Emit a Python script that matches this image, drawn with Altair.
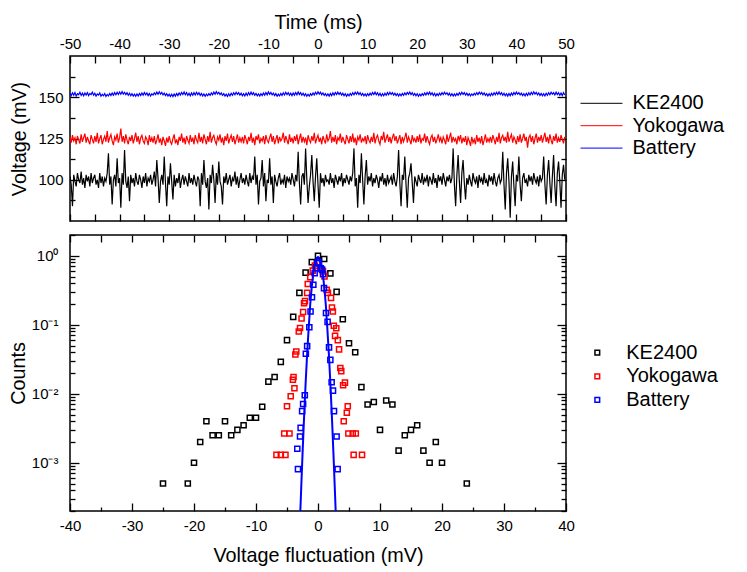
import altair as alt
import pandas as pd

FONT = "Liberation Sans"
SERIES = ["KE2400", "Yokogawa", "Battery"]
COLORS = ["#000000", "#ff0000", "#0000ff"]

# ---------------- top panel: voltage traces (one reading every 0.25 ms) ----------------
T0, DT = -50.0, 0.25
ke2400_mv = [
    102, 97, 84, 103, 99, 96, 104, 100, 98, 105, 97, 101, 95, 103, 99, 102, 96, 104, 98, 101,
    103, 97, 100, 95, 104, 98, 102, 96, 101, 99, 104, 116, 97, 102, 85, 100, 103, 96, 113, 98,
    101, 83, 104, 97, 118, 99, 95, 102, 87, 103, 98, 101, 96, 104, 99, 97, 103, 100, 95, 102,
    98, 104, 96, 101, 99, 103, 97, 100, 105, 96, 112, 101, 86, 99, 103, 97, 114, 98, 84, 102,
    97, 110, 99, 88, 103, 96, 101, 98, 104, 95, 100, 103, 97, 102, 99, 96, 104, 98, 101, 97,
    103, 99, 96, 102, 100, 84, 104, 97, 112, 99, 95, 101, 82, 103, 98, 109, 100, 86, 104, 97,
    111, 99, 96, 85, 102, 98, 104, 97, 100, 103, 96, 101, 99, 105, 97, 102, 95, 100, 104, 98,
    101, 97, 103, 99, 96, 104, 98, 102, 100, 114, 97, 103, 85, 99, 101, 112, 96, 104, 87, 100,
    98, 113, 97, 102, 86, 103, 99, 96, 101, 104, 97, 100, 98, 103, 95, 102, 99, 101, 97, 104,
    100, 96, 103, 99, 117, 98, 85, 102, 104, 97, 119, 100, 86, 96, 103, 115, 99, 87, 102, 113,
    97, 83, 104, 98, 101, 96, 103, 99, 100, 97, 104, 98, 101, 95, 103, 100, 97, 102, 99, 104,
    96, 101, 98, 103, 100, 97, 102, 99, 104, 119, 96, 101, 83, 103, 98, 116, 100, 85, 102, 112,
    97, 102, 99, 104, 96, 101, 98, 103, 100, 95, 102, 99, 104, 97, 101, 96, 103, 98, 100, 102,
    97, 104, 99, 96, 102, 118, 98, 84, 103, 100, 114, 97, 83, 101, 104, 110, 98, 86, 102, 99,
    96, 103, 100, 98, 104, 97, 101, 99, 103, 96, 102, 100, 97, 104, 98, 101, 95, 103, 99, 102,
    97, 104, 100, 96, 102, 99, 103, 98, 101, 119, 97, 84, 103, 115, 99, 86, 104, 112, 98, 88,
    101, 97, 103, 99, 96, 104, 100, 98, 102, 95, 103, 99, 101, 97, 104, 98, 100, 96, 103, 99,
    102, 97, 104, 99, 96, 101, 103, 98, 100, 117, 97, 82, 104, 113, 99, 77, 102, 111, 96, 84,
    103, 99, 114, 97, 87, 101, 104, 98, 100, 96, 103, 99, 102, 97, 104, 100, 98, 102, 96, 103,
    99, 101, 114, 97, 85, 103, 112, 98, 86, 102, 115, 96, 84, 104, 111, 99, 83, 103, 109, 100,
]
yokogawa_mv = [
    126, 122.5, 127, 123.5, 125.5, 121.5, 126.5, 124, 122, 127.5, 123, 125.5, 128, 122.5, 126, 123.5, 121.5, 127, 124.5, 122,
    126.5, 123, 128.5, 122, 125, 127, 121.5, 124.5, 126.5, 123, 129.5, 122.5, 125.5, 127.5, 123.5, 121, 126, 124, 128, 122.5,
    125.5, 131, 123, 126.5, 122, 127.5, 124, 121.5, 126, 123.5, 127, 122, 125, 128.5, 123, 126.5, 121.5, 125.5, 127, 123.5,
    122, 126, 124.5, 121, 127, 123, 125.5, 122.5, 126.5, 121.5, 124, 127.5, 122.5, 125, 121, 126, 123.5, 120.5, 125.5, 122.5,
    126.5, 123, 121.5, 125, 127.5, 122, 124.5, 121, 126, 123.5, 128, 122.5, 125.5, 121.5, 126.5, 124, 122, 127, 123, 125.5,
    121.5, 127, 124, 122.5, 128.5, 123, 126, 122, 127.5, 124.5, 121.5, 126.5, 123, 129, 122.5, 125.5, 127, 123.5, 121.5, 126,
    124, 127.5, 122.5, 125.5, 121, 126.5, 123.5, 128, 122, 125, 127, 123, 126.5, 121.5, 124.5, 127.5, 122.5, 125.5, 123, 126,
    122, 127, 124.5, 121.5, 126, 123.5, 128.5, 122.5, 125.5, 121, 126.5, 124, 127.5, 122, 125, 123.5, 126.5, 121.5, 127, 124,
    122.5, 125.5, 128, 123, 126.5, 121.5, 124.5, 127, 122, 126, 123.5, 125, 128.5, 122.5, 126.5, 124, 121.5, 127.5, 123, 125.5,
    122, 126.5, 123.5, 127.5, 121.5, 125, 128, 122.5, 126, 123, 125.5, 121, 127, 124, 122.5, 126.5, 123.5, 128.5, 122, 125,
    127, 123, 125.5, 121.5, 126.5, 124, 122, 127.5, 123.5, 125, 129.5, 122.5, 126, 123, 127, 121.5, 125.5, 124, 128, 122.5,
    126, 123.5, 121.5, 127, 124.5, 122, 126.5, 123, 128, 122.5, 125.5, 121, 126, 124, 127.5, 122.5, 125, 123.5, 126.5, 121.5,
    127, 124, 122.5, 126, 123, 128.5, 122, 125.5, 127, 123.5, 121.5, 126.5, 124, 129, 122.5, 125, 127.5, 123, 126, 122,
    125.5, 128, 123.5, 126.5, 122, 124.5, 127, 121.5, 126, 123, 125.5, 128.5, 122.5, 126, 124, 121.5, 127, 123.5, 125, 122.5,
    126.5, 123, 127.5, 122, 125, 124, 128, 122.5, 126.5, 123.5, 121.5, 125.5, 127, 123, 126, 122, 124.5, 127.5, 123.5, 125.5,
    122, 126, 124, 121.5, 127.5, 123, 125.5, 128.5, 122.5, 126, 123.5, 125, 121.5, 126.5, 124, 127, 122, 125.5, 123, 126.5,
    121, 125.5, 123.5, 120.5, 126, 122.5, 124.5, 121.5, 127, 123, 125.5, 122, 126.5, 121, 124, 127.5, 122.5, 125, 123, 126,
    122.5, 127, 124.5, 121.5, 126, 123, 128.5, 122, 125.5, 127, 123.5, 126, 122.5, 129, 123, 125.5, 127.5, 122.5, 126, 124,
    121.5, 126.5, 123, 127.5, 122.5, 125, 128, 123.5, 126, 119.5, 125.5, 127, 123, 126.5, 121.5, 125, 128, 122.5, 126, 123.5,
    127, 122.5, 125.5, 128.5, 123, 126, 122, 127.5, 124, 121.5, 126.5, 123.5, 128, 122.5, 125.5, 123, 127, 124.5, 122, 126,
]
battery_mv = [
    152.4, 151.0, 152.7, 151.3, 152.9, 150.8, 152.2, 151.5, 153.0, 151.1, 152.5, 150.9, 152.6, 151.4, 152.8, 151.0, 152.3, 151.6, 153.1, 151.2,
    152.4, 150.7, 152.0, 151.3, 152.6, 150.6, 151.8, 150.9, 152.2, 150.5, 151.7, 150.8, 152.3, 151.0, 152.5, 151.2, 152.8, 151.5, 153.0, 151.7,
    153.2, 151.8, 153.4, 151.9, 153.0, 151.6, 152.7, 151.2, 152.4, 150.9, 152.1, 150.7, 151.9, 150.6, 152.0, 150.8, 152.3, 151.1, 152.6, 151.3,
    152.9, 151.5, 152.6, 151.0, 152.3, 150.8, 152.1, 151.3, 152.7, 151.6, 153.1, 151.8, 153.3, 151.9, 152.9, 151.4, 152.5, 151.0, 152.2, 150.7,
    151.9, 150.5, 151.8, 150.4, 152.0, 150.7, 152.3, 151.0, 152.6, 151.4, 152.9, 151.7, 153.2, 151.5, 152.8, 151.1, 152.4, 150.9, 152.6, 151.2,
    152.8, 151.4, 153.0, 151.6, 152.7, 151.1, 152.3, 150.8, 152.0, 150.6, 151.9, 150.9, 152.2, 151.2, 152.6, 151.5, 153.1, 151.8, 153.4, 152.0,
    153.0, 151.6, 152.6, 151.1, 152.2, 150.7, 151.9, 150.5, 152.1, 150.8, 152.4, 151.2, 152.7, 151.5, 153.0, 151.7, 152.8, 151.3, 152.4, 150.9,
    152.2, 150.8, 152.5, 151.1, 152.8, 151.4, 153.1, 151.6, 152.7, 151.2, 152.3, 150.9, 152.0, 150.7, 152.2, 151.0, 152.6, 151.3, 152.9, 151.5,
    153.2, 151.8, 152.9, 151.4, 152.5, 151.0, 152.2, 150.6, 151.9, 150.8, 152.3, 151.1, 152.7, 151.4, 153.0, 151.6, 152.8, 151.2, 152.4, 151.0,
    152.6, 151.3, 152.9, 151.5, 153.2, 151.7, 152.8, 151.2, 152.4, 150.9, 152.1, 150.6, 151.8, 150.7, 152.2, 151.1, 152.6, 151.4, 153.0, 151.8,
    153.3, 151.9, 153.0, 151.5, 152.6, 151.1, 152.2, 150.8, 152.0, 150.7, 152.3, 151.0, 152.7, 151.3, 152.9, 151.6, 153.1, 151.7, 152.8, 151.3,
    152.4, 150.9, 152.1, 150.6, 151.9, 150.8, 152.3, 151.2, 152.7, 151.5, 153.0, 151.8, 153.2, 151.6, 152.8, 151.2, 152.3, 150.9, 152.0, 150.7,
    152.2, 151.0, 152.5, 151.3, 152.9, 151.6, 153.1, 151.5, 152.7, 151.1, 152.4, 150.8, 152.1, 150.9, 152.4, 151.2, 152.8, 151.5, 153.0, 151.7,
    152.8, 151.3, 152.5, 151.0, 152.2, 150.7, 152.0, 150.9, 152.3, 151.2, 152.6, 151.5, 152.9, 151.8, 153.2, 151.6, 152.7, 151.2, 152.3, 150.9,
    152.1, 150.6, 151.9, 150.8, 152.2, 151.1, 152.6, 151.4, 152.9, 151.7, 153.1, 151.5, 152.7, 151.1, 152.4, 150.8, 152.2, 151.0, 152.5, 151.3,
    152.8, 151.6, 153.0, 151.8, 152.7, 151.3, 152.4, 150.9, 152.1, 150.7, 152.0, 150.9, 152.3, 151.2, 152.7, 151.5, 153.0, 151.7, 152.8, 151.3,
    152.5, 151.0, 152.2, 150.8, 152.0, 151.1, 152.4, 151.4, 152.8, 151.6, 153.1, 151.9, 152.9, 151.5, 152.6, 151.1, 152.2, 150.8, 152.1, 150.9,
    152.4, 151.2, 152.7, 151.5, 153.0, 151.7, 153.2, 151.6, 152.8, 151.2, 152.4, 150.9, 152.1, 150.7, 152.3, 151.0, 152.6, 151.3, 152.9, 151.6,
    153.1, 151.8, 152.8, 151.4, 152.5, 151.0, 152.2, 150.8, 152.4, 151.1, 152.7, 151.4, 153.0, 151.7, 153.3, 151.9, 152.9, 151.5, 152.6, 151.1,
    152.3, 150.9, 152.1, 150.8, 152.4, 151.2, 152.7, 151.5, 153.0, 151.8, 152.8, 151.4, 153.1, 151.6, 152.7, 151.2, 152.5, 151.0, 152.8, 151.4,
]

# ---------------- bottom panel: histograms ----------------
ke2400_dv = [-25, -21, -20, -19, -18, -17, -16, -15, -14, -13, -12, -11, -10, -9, -8, -7, -6, -5, -4, -3, -2, -1,
             0, 1, 2, 3, 4, 5, 6, 7, 8, 9, 10, 11, 12, 13, 14, 15, 16, 17, 18, 19, 20, 24]
ke2400_counts = [5e-4, 5e-4, 1e-3, 2e-3, 4e-3, 2.5e-3, 2.5e-3, 4e-3, 2.5e-3, 3e-3, 3.5e-3, 4.5e-3, 4.5e-3, 6.5e-3,
                 1.5e-2, 1.75e-2, 2.9e-2, 6.0e-2, 0.13, 0.29, 0.57, 0.81, 1.0, 0.90, 0.555, 0.30, 0.12, 0.054, 0.040,
                 0.0125, 7.0e-3, 7.6e-3, 3.0e-3, 8.0e-3, 7.0e-3, 1.5e-3, 2.5e-3, 3.0e-3, 3.5e-3, 1.5e-3, 1.0e-3,
                 2.0e-3, 1.0e-3, 5e-4]
yokogawa_dv = [-6.7, -6.0, -5.25, -5.45, -4.6, -5.0, -4.4, -3.8, -4.05, -3.95, -3.65, -3.5, -3.1, -2.9, -2.65,
               -2.4, -2.25, -2.1, -1.75, -1.65, -1.25, -0.85, -0.5, 0.0, 0.4, 0.8, 1.05, 1.4, 1.6, 2.1, 2.25, 2.4,
               2.55, 2.95, 2.75, 3.2, 3.4, 3.6, 3.75, 4.05, 4.35, 4.8, 4.65, 4.15, 4.9, 5.6, 6.1, 5.75, 7.1]
yokogawa_counts = [1.3e-3, 1.3e-3, 1.3e-3, 2.65e-3, 2.65e-3, 6.6e-3, 9.2e-3, 1.2e-2, 1.6e-2, 1.75e-2, 0.037, 0.041,
                   0.080, 0.090, 0.123, 0.153, 0.205, 0.22, 0.29, 0.39, 0.49, 0.61, 0.72, 0.80, 0.66, 0.60, 0.50,
                   0.32, 0.29, 0.245, 0.178, 0.156, 0.097, 0.089, 0.069, 0.060, 0.044, 0.0236, 0.0213, 0.0133,
                   0.0145, 6.6e-3, 5.3e-3, 4.0e-3, 2.65e-3, 2.65e-3, 2.65e-3, 1.3e-3, 1.3e-3]
battery_dv = [-3.23, -3.34, -2.9, -2.8, -2.56, -2.4, -2.13, -1.96, -1.75, -1.4, -1.2, -0.97, -0.75, -0.54, -0.32,
              -0.1, 0.15, 0.45, 0.65, 0.81, 0.97, 1.29, 1.55, 1.78, 1.99, 2.2, 2.42, 2.58, 3.0, 3.17]
battery_counts = [8.1e-4, 1.6e-3, 2.4e-3, 3.2e-3, 5.6e-3, 7.1e-3, 9.5e-3, 0.038, 0.049, 0.092, 0.156, 0.25, 0.38,
                  0.56, 0.66, 0.78, 0.80, 0.66, 0.63, 0.54, 0.34, 0.148, 0.11, 0.047, 0.031, 0.0147, 0.0111,
                  5.6e-3, 2.4e-3, 8.1e-4]
# Gaussian fit line of the battery histogram
fit_dv = [-2.85, -2.7, -2.5, -2.25, -2.0, -1.75, -1.5, -1.25, -1.0, -0.75, -0.5, -0.25, 0.0,
          0.25, 0.5, 0.75, 1.0, 1.25, 1.5, 1.75, 2.0, 2.25, 2.5, 2.7, 2.85]
fit_counts = [2e-4, 4.5e-4, 1.3e-3, 4.5e-3, 0.014, 0.038, 0.09, 0.2, 0.36, 0.57, 0.78, 0.92, 0.96,
              0.92, 0.78, 0.57, 0.36, 0.2, 0.09, 0.038, 0.014, 4.5e-3, 1.3e-3, 4.5e-4, 2e-4]

# ---------------- tick values ----------------
time_ticks = [-50, -45, -40, -35, -30, -25, -20, -15, -10, -5, 0, 5, 10, 15, 20, 25, 30, 35, 40, 45, 50]
volt_major = [100, 125, 150]
volt_minor = [87.5, 112.5, 137.5, 162.5]
fluct_major = [-40, -30, -20, -10, 0, 10, 20, 30, 40]
fluct_minor = [-35, -25, -15, -5, 5, 15, 25, 35]
fluct_all = [-40, -35, -30, -25, -20, -15, -10, -5, 0, 5, 10, 15, 20, 25, 30, 35, 40]
count_major = [1e-3, 1e-2, 1e-1, 1]
count_minor = [2e-4, 3e-4, 4e-4, 5e-4, 6e-4, 7e-4, 8e-4, 9e-4,
               2e-3, 3e-3, 4e-3, 5e-3, 6e-3, 7e-3, 8e-3, 9e-3,
               2e-2, 3e-2, 4e-2, 5e-2, 6e-2, 7e-2, 8e-2, 9e-2,
               0.2, 0.3, 0.4, 0.5, 0.6, 0.7, 0.8, 0.9, 2]

# ---------------- tables ----------------
def trace(name, vals):
    return pd.DataFrame({"t": [T0 + DT * i for i in range(len(vals))], "v": vals, "series": name})

top_df = pd.concat([trace("KE2400", ke2400_mv), trace("Yokogawa", yokogawa_mv),
                    trace("Battery", battery_mv)], ignore_index=True)
bot_df = pd.concat([
    pd.DataFrame({"dv": ke2400_dv, "c": ke2400_counts, "series": "KE2400"}),
    pd.DataFrame({"dv": yokogawa_dv, "c": yokogawa_counts, "series": "Yokogawa"}),
    pd.DataFrame({"dv": battery_dv, "c": battery_counts, "series": "Battery"}),
], ignore_index=True)
fit_df = pd.DataFrame({"dv": fit_dv, "c": fit_counts})
top_frame = pd.DataFrame({"t": [-50, 50], "v": [75, 175]})
bot_frame = pd.DataFrame({"dv": [-40, 40], "c": [2e-4, 2]})


def ax(orient, values, size, labels=False, title=None, label_expr=None, label_pad=None, title_pad=None):
    kw = dict(orient=orient, values=values, tickSize={"expr": str(-size)}, tickWidth=1.3,
              tickColor="black", domain=False, grid=False, labels=labels, title=title,
              labelFont=FONT, labelFontSize=15, labelColor="black", labelOverlap=False,
              labelFlush=False, titleFont=FONT, titleFontSize=19.8, titleFontWeight="normal",
              titleColor="black")
    if label_expr:
        kw["labelExpr"] = label_expr
    if label_pad is not None:
        kw["labelPadding"] = label_pad
    if title_pad is not None:
        kw["titlePadding"] = title_pad
    return alt.Axis(**kw)


def tsc():
    return alt.Scale(domain=[-50, 50], nice=False, zero=False)


def vsc():
    return alt.Scale(domain=[75, 175], nice=False, zero=False)


def dsc():
    return alt.Scale(domain=[-40, 40], nice=False, zero=False)


def csc():
    return alt.Scale(type="log", domain=[2e-4, 2], nice=False)


color_scale = alt.Scale(domain=SERIES, range=COLORS)
LBL = "'' + datum.value"
TLBL = "datum.value % 10 === 0 ? '' + datum.value : ''"
LOGLBL = ("datum.value > 0.5 ? '10\u2070' : datum.value > 0.05 ? '10\u207b\u00b9' : "
          "datum.value > 0.005 ? '10\u207b\u00b2' : '10\u207b\u00b3'")

# ---------------- top panel ----------------
top_lines = alt.Chart(top_df).mark_line(strokeWidth=1.2, clip=True).encode(
    x=alt.X("t:Q", scale=tsc(),
            axis=ax("top", time_ticks, 7, labels=True, title="Time (ms)", label_expr=TLBL,
                    label_pad=12, title_pad=4)),
    y=alt.Y("v:Q", scale=vsc(),
            axis=ax("left", volt_major, 9, labels=True, title="Voltage (mV)", label_expr=LBL,
                    label_pad=16, title_pad=8)),
    color=alt.Color("series:N", scale=color_scale,
                    legend=alt.Legend(title=None, orient="none", legendX=521.5, legendY=37.3,
                                      symbolType="M-4,0H4", symbolSize=110, symbolStrokeWidth=1,
                                      labelFont=FONT, labelFontSize=20, labelColor="black",
                                      labelOffset=21, rowPadding=2.4, padding=0)),
)
top_g1 = alt.Chart(top_frame).mark_point(opacity=0, clip=True).encode(
    x=alt.X("t:Q", scale=tsc(), axis=ax("bottom", time_ticks, 7)),
    y=alt.Y("v:Q", scale=vsc(), axis=ax("left", volt_minor, 5)),
)
top_g2 = alt.Chart(top_frame).mark_point(opacity=0, clip=True).encode(
    x=alt.X("t:Q", scale=tsc(), axis=None),
    y=alt.Y("v:Q", scale=vsc(), axis=ax("right", volt_major, 9)),
)
top_g3 = alt.Chart(top_frame).mark_point(opacity=0, clip=True).encode(
    x=alt.X("t:Q", scale=tsc(), axis=None),
    y=alt.Y("v:Q", scale=vsc(), axis=ax("right", volt_minor, 5)),
)
top = alt.layer(top_lines, top_g1, top_g2, top_g3).resolve_axis(
    x="independent", y="independent").properties(width=496, height=165)

# ---------------- bottom panel ----------------
pts = alt.Chart(bot_df).mark_point(shape="square", filled=False, size=26, strokeWidth=1.5,
                                   opacity=1, clip=True).encode(
    x=alt.X("dv:Q", scale=dsc(),
            axis=ax("bottom", fluct_major, 8, labels=True, title="Voltage fluctuation (mV)",
                    label_expr=LBL, label_pad=15.5, title_pad=12)),
    y=alt.Y("c:Q", scale=csc(),
            axis=ax("left", count_major, 9, labels=True, title="Counts", label_expr=LOGLBL,
                    label_pad=21, title_pad=2.5)),
    color=alt.Color("series:N", scale=color_scale,
                    legend=alt.Legend(title=None, orient="none", legendX=517.3, legendY=107.7,
                                      symbolType="square", symbolSize=22, symbolStrokeWidth=1.5,
                                      labelFont=FONT, labelFontSize=20, labelColor="black",
                                      labelOffset=18.9, rowPadding=3.6, padding=0)),
)
fit = alt.Chart(fit_df).mark_line(color="#0000ff", strokeWidth=2, clip=True).encode(
    x=alt.X("dv:Q", scale=dsc(), axis=ax("bottom", fluct_minor, 4)),
    y=alt.Y("c:Q", scale=csc(), axis=ax("left", count_minor, 5)),
)
bot_g1 = alt.Chart(bot_frame).mark_point(opacity=0, clip=True).encode(
    x=alt.X("dv:Q", scale=dsc(), axis=ax("top", fluct_all, 7)),
    y=alt.Y("c:Q", scale=csc(), axis=ax("right", count_major, 9)),
)
bot_g2 = alt.Chart(bot_frame).mark_point(opacity=0, clip=True).encode(
    x=alt.X("dv:Q", scale=dsc(), axis=None),
    y=alt.Y("c:Q", scale=csc(), axis=ax("right", count_minor, 5)),
)
bottom = alt.layer(pts, fit, bot_g1, bot_g2).resolve_axis(
    x="independent", y="independent").properties(width=496, height=276)

chart = alt.vconcat(top, bottom, spacing=10).resolve_scale(color="independent").properties(
    padding={"left": 0, "top": 3, "right": 5, "bottom": 3}
).configure(font=FONT).configure_view(stroke="black", strokeWidth=1.5)

chart.save("out.html", embed_options={"renderer": "svg", "actions": False})
